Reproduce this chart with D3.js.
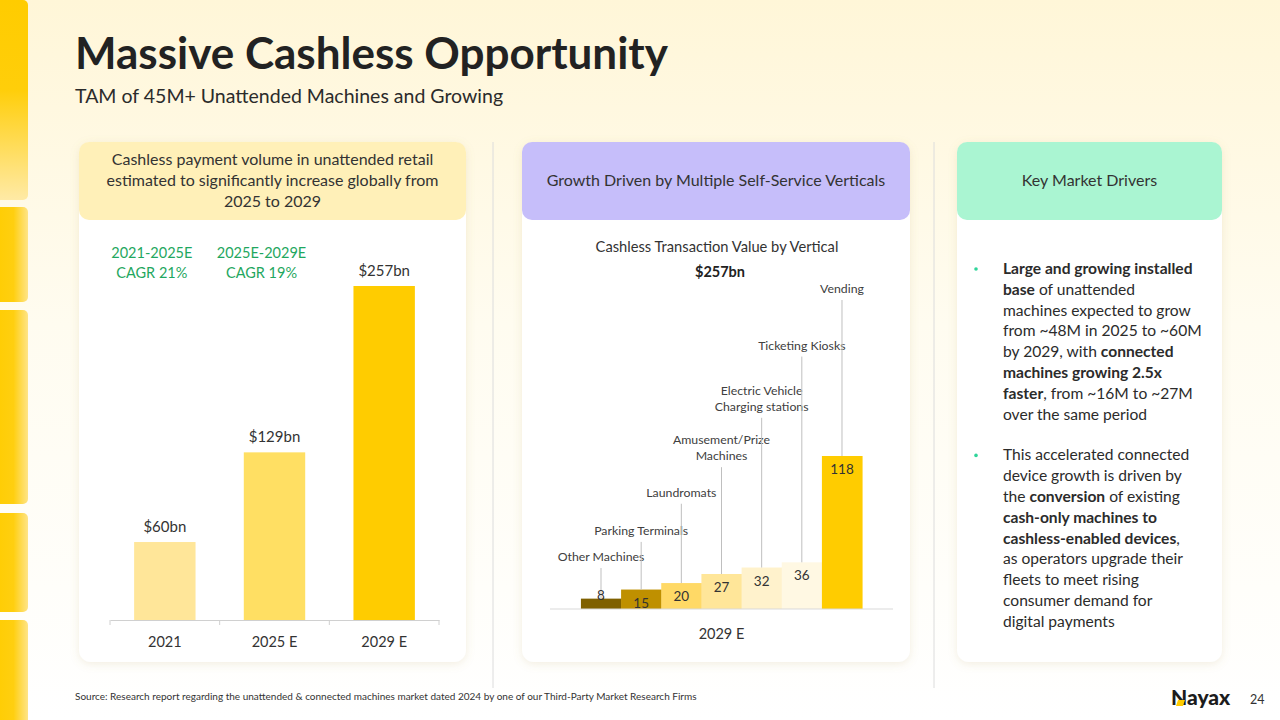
<!DOCTYPE html>
<html>
<head>
<meta charset="utf-8">
<script src="https://cdn.jsdelivr.net/npm/d3@7"></script>
<style>
  html, body { margin: 0; padding: 0; background: #fff; }
  svg { display: block; font-family: Lato, "Open Sans", sans-serif; }
</style>
</head>
<body>
<svg id="slide" width="1280" height="720"></svg>
<script>
// ---- data ----
var years = ["2021", "2025 E", "2029 E"];
var volumes = [60, 129, 257];
var volumeLabels = ["$60bn", "$129bn", "$257bn"];
var cagrText = [["2021-2025E", "CAGR 21%"], ["2025E-2029E", "CAGR 19%"]];

var verticals = ["Other Machines", "Parking Terminals", "Laundromats", "Amusement/Prize Machines",
                 "Electric Vehicle Charging stations", "Ticketing Kiosks", "Vending"];
var verticalLabelLines = [["Other Machines"], ["Parking Terminals"], ["Laundromats"],
                          ["Amusement/Prize", "Machines"], ["Electric Vehicle", "Charging stations"],
                          ["Ticketing Kiosks"], ["Vending"]];
var verticalValues = [8, 15, 20, 27, 32, 36, 118];
var verticalCategory = "2029 E";
var verticalTotal = "$257bn";

var driverBullets = [
  [[["Large and growing installed", 1]],
   [["base", 1], [" of unattended", 0]],
   [["machines expected to grow", 0]],
   [["from ~48M in 2025 to ~60M", 0]],
   [["by 2029, with ", 0], ["connected", 1]],
   [["machines growing 2.5x", 1]],
   [["faster", 1], [", from ~16M to ~27M", 0]],
   [["over the same period", 0]]],
  [[["This accelerated connected", 0]],
   [["device growth is driven by", 0]],
   [["the ", 0], ["conversion", 1], [" of existing", 0]],
   [["cash-only machines to", 1]],
   [["cashless-enabled devices", 1], [",", 0]],
   [["as operators upgrade their", 0]],
   [["fleets to meet rising", 0]],
   [["consumer demand for", 0]],
   [["digital payments", 0]]]
];

// ---- styles ----
var volumeColors = ["#ffe699", "#ffdf63", "#ffcc00"];
var verticalColors = ["#7f6000", "#bf9000", "#ffd966", "#ffe699", "#fff2cc", "#fff8e3", "#ffcc00"];
var textColor = "#333333";
var green = "#1fa760";

var svg = d3.select("#slide");
var defs = svg.append("defs");

var bg = defs.append("linearGradient").attr("id", "bg").attr("x1", 0).attr("y1", 0).attr("x2", 0).attr("y2", 1);
bg.append("stop").attr("offset", "0%").attr("stop-color", "#fff6d8");
bg.append("stop").attr("offset", "45%").attr("stop-color", "#fffcf0");
bg.append("stop").attr("offset", "100%").attr("stop-color", "#ffffff");

var stripeH = defs.append("linearGradient").attr("id", "stripeH").attr("x1", 0).attr("y1", 0).attr("x2", 1).attr("y2", 0);
stripeH.append("stop").attr("offset", "0%").attr("stop-color", "#ffcc00");
stripeH.append("stop").attr("offset", "60%").attr("stop-color", "#ffcf10");
stripeH.append("stop").attr("offset", "100%").attr("stop-color", "#ffe487");
var stripeV = defs.append("linearGradient").attr("id", "stripeV").attr("x1", 0).attr("y1", 0).attr("x2", 0).attr("y2", 1);
stripeV.append("stop").attr("offset", "0%").attr("stop-color", "#ffcc00");
stripeV.append("stop").attr("offset", "45%").attr("stop-color", "#ffce0a");
stripeV.append("stop").attr("offset", "100%").attr("stop-color", "#ffeaa6");

var shadow = defs.append("filter").attr("id", "shadow").attr("x", "-10%").attr("y", "-10%").attr("width", "120%").attr("height", "120%");
shadow.append("feDropShadow").attr("dx", 0).attr("dy", 2).attr("stdDeviation", 4)
  .attr("flood-color", "#b8a060").attr("flood-opacity", 0.18);

svg.append("rect").attr("width", 1280).attr("height", 720).attr("fill", "url(#bg)");

// left decorative stripes
[[0, 200, "url(#stripeV)"], [207, 95, "url(#stripeH)"], [310, 194, "url(#stripeH)"],
 [513, 99, "url(#stripeH)"], [620, 110, "url(#stripeH)"]].forEach(function(s) {
  svg.append("rect").attr("x", -8).attr("y", s[0]).attr("width", 36).attr("height", s[1])
    .attr("rx", 5).attr("fill", s[2]);
});

// title
svg.append("text").attr("x", 75).attr("y", 69).attr("font-size", 44).attr("font-weight", 700)
  .attr("fill", "#222").text("Massive Cashless Opportunity");
svg.append("text").attr("x", 75).attr("y", 103).attr("font-size", 19.5)
  .attr("fill", "#2b2b2b").text("TAM of 45M+ Unattended Machines and Growing");

// separators
[493, 934].forEach(function(x) {
  svg.append("line").attr("x1", x).attr("x2", x).attr("y1", 142).attr("y2", 688)
    .attr("stroke", "#dcdcdc").attr("stroke-width", 1);
});

// cards
function card(x, w, color, lines) {
  svg.append("rect").attr("x", x).attr("y", 142).attr("width", w).attr("height", 520)
    .attr("rx", 12).attr("fill", "#fff").attr("filter", "url(#shadow)");
  svg.append("rect").attr("x", x).attr("y", 142).attr("width", w).attr("height", 78)
    .attr("rx", 10).attr("fill", color);
  var t = svg.append("text").attr("text-anchor", "middle").attr("font-size", 16).attr("fill", textColor);
  var y0 = 181 - (lines.length - 1) * 10.5;
  lines.forEach(function(l, i) {
    t.append("tspan").attr("x", x + w / 2).attr("y", y0 + i * 21 + 5).text(l);
  });
}
card(79, 387, "#fff0b8", ["Cashless payment volume in unattended retail",
  "estimated to significantly increase globally from", "2025 to 2029"]);
card(522, 388, "#c6befa", ["Growth Driven by Multiple Self-Service Verticals"]);
card(957, 265, "#aaf5d2", ["Key Market Drivers"]);

// ---- left chart: cashless payment volume ----
var x1 = d3.scaleBand().domain(years).range([110, 439]).paddingInner(0.44).paddingOuter(0.22);
var y1 = d3.scaleLinear().domain([0, 257]).range([620, 286]);
var g1 = svg.append("g");

g1.selectAll("rect.vol").data(volumes).enter().append("rect")
  .attr("class", "vol")
  .attr("x", function(d, i) { return x1(years[i]); })
  .attr("y", function(d) { return y1(d); })
  .attr("width", x1.bandwidth())
  .attr("height", function(d) { return y1(0) - y1(d); })
  .attr("fill", function(d, i) { return volumeColors[i]; });

g1.selectAll("text.vl").data(volumes).enter().append("text")
  .attr("class", "vl")
  .attr("x", function(d, i) { return x1(years[i]) + x1.bandwidth() / 2; })
  .attr("y", function(d) { return y1(d) - 10; })
  .attr("text-anchor", "middle").attr("font-size", 15).attr("fill", textColor)
  .text(function(d, i) { return volumeLabels[i]; });

var ax1 = g1.append("g").attr("transform", "translate(0," + y1(0) + ")")
  .call(d3.axisBottom(x1).tickSize(0).tickPadding(17));
ax1.select(".domain").attr("stroke", "#d0d0d0");
ax1.selectAll("text").attr("font-size", 14.5).attr("fill", textColor).attr("font-family", "Lato, sans-serif");
d3.range(years.length + 1).forEach(function(i) {
  var bx = x1.range()[0] + i * x1.step();
  ax1.append("line").attr("x1", bx).attr("x2", bx).attr("y1", 0).attr("y2", 5).attr("stroke", "#d0d0d0");
});

cagrText.forEach(function(c, i) {
  var cx = x1(years[i]) + x1.bandwidth() / 2 - 13;
  c.forEach(function(l, j) {
    g1.append("text").attr("x", cx).attr("y", 258 + j * 20).attr("text-anchor", "middle")
      .attr("font-size", 14.5).attr("fill", green).text(l);
  });
});

// ---- middle chart: transaction value by vertical ----
var x2 = d3.scaleBand().domain(verticals).range([550, 893]).paddingInner(0).paddingOuter(0.77);
var y2 = d3.scaleLinear().domain([0, 118]).range([609, 456]);
var labelY = d3.scalePow().exponent(1.3).domain([0, verticals.length - 1]).range([557, 289]);
var g2 = svg.append("g");

g2.append("text").attr("x", 717).attr("y", 252).attr("text-anchor", "middle")
  .attr("font-size", 14.7).attr("fill", textColor).text("Cashless Transaction Value by Vertical");
g2.append("text").attr("x", 720).attr("y", 277).attr("text-anchor", "middle")
  .attr("font-size", 14.5).attr("font-weight", 700).attr("fill", "#222")
  .text(verticalTotal);

g2.selectAll("rect.vert").data(verticalValues).enter().append("rect")
  .attr("class", "vert")
  .attr("x", function(d, i) { return x2(verticals[i]); })
  .attr("y", function(d) { return y2(d); })
  .attr("width", x2.bandwidth() + 0.5)
  .attr("height", function(d) { return y2(0) - y2(d); })
  .attr("fill", function(d, i) { return verticalColors[i]; });

// leader lines + category labels
verticals.forEach(function(v, i) {
  var cx = x2(v) + x2.bandwidth() / 2;
  var lines = verticalLabelLines[i];
  var cy = labelY(i);
  var first = cy - (lines.length - 1) * 8;
  var last = cy + (lines.length - 1) * 8;
  g2.append("line").attr("x1", cx).attr("x2", cx).attr("y1", last + 11).attr("y2", y2(verticalValues[i]))
    .attr("stroke", "#bfbfbf").attr("stroke-width", 1);
  lines.forEach(function(l, j) {
    g2.append("text").attr("x", cx).attr("y", first + j * 16 + 4).attr("text-anchor", "middle")
      .attr("font-size", 12.3).attr("fill", "#404040").text(l);
  });
});

g2.selectAll("text.val").data(verticalValues).enter().append("text")
  .attr("class", "val")
  .attr("x", function(d, i) { return x2(verticals[i]) + x2.bandwidth() / 2; })
  .attr("y", function(d) { return (y2(0) - y2(d)) < 14 ? y2(d) + 1 : y2(d) + 18; })
  .attr("text-anchor", "middle").attr("font-size", 13.5).attr("fill", textColor)
  .text(function(d) { return d; });

var ax2 = g2.append("g").attr("transform", "translate(0," + y2(0) + ")");
ax2.append("line").attr("x1", x2.range()[0]).attr("x2", x2.range()[1]).attr("stroke", "#d9d9d9");
ax2.append("text").attr("x", (x2.range()[0] + x2.range()[1]) / 2).attr("y", 30)
  .attr("text-anchor", "middle").attr("font-size", 14.5).attr("fill", textColor).text(verticalCategory);

// ---- right panel: key market drivers ----
var g3 = svg.append("g");
var lineY = 274;
driverBullets.forEach(function(b, bi) {
  g3.append("circle").attr("cx", 976).attr("cy", lineY - 5).attr("r", 1.8).attr("fill", "#2fd59a");
  b.forEach(function(line) {
    var t = g3.append("text").attr("x", 1003).attr("y", lineY).attr("font-size", 15.6).attr("fill", "#2b2b2b");
    line.forEach(function(seg) {
      t.append("tspan").attr("font-weight", seg[1] ? 700 : 400).text(seg[0]);
    });
    lineY += 20.8;
  });
  lineY += 20;
});

// ---- footer ----
svg.append("text").attr("x", 75).attr("y", 700).attr("font-size", 10).attr("fill", "#333")
  .text("Source: Research report regarding the unattended & connected machines market dated 2024 by one of our Third-Party Market Research Firms");
svg.append("text").attr("x", 1171).attr("y", 705).attr("font-size", 21).attr("font-weight", 900)
  .attr("fill", "#1c1c1c").attr("font-family", "Lato, sans-serif").text("Nayax");
svg.append("path").attr("d", "M1178,700 L1185,700 L1183,706 L1176,706 Z").attr("fill", "#ffcc00");
svg.append("text").attr("x", 1250).attr("y", 704).attr("font-size", 12.5).attr("fill", "#333").text("24");
</script>
</body>
</html>
